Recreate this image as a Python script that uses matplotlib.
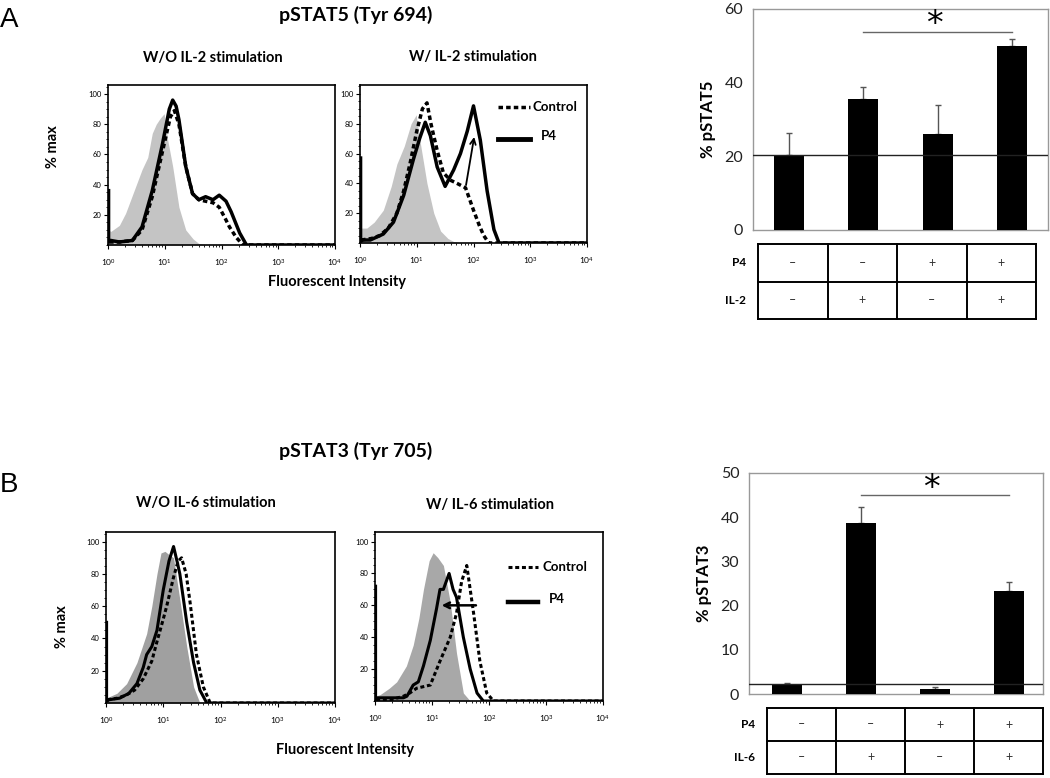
import numpy as np
import matplotlib
matplotlib.use("Agg")
import matplotlib.pyplot as plt
from matplotlib.ticker import LogLocator, NullFormatter, MultipleLocator

plt.rcParams['font.family'] = ['Lato', 'DejaVu Sans']

# ---- flow histograms (x in log10 units, y in % max) ----
# W/O IL-2
il2_off_iso_log = [0.0, 0.05, 0.2, 0.31, 0.45, 0.6, 0.7, 0.78, 0.85, 0.92, 0.99, 1.05, 1.14, 1.25, 1.37, 1.5, 1.6, 1.75]
il2_off_iso_y = [10, 9, 13, 21, 35, 50, 58, 74, 80, 84, 87, 70, 52, 25, 10, 4, 1, 0]
il2_off_ctrl_log = [0.02, 0.2, 0.43, 0.6, 0.78, 0.96, 1.1, 1.17, 1.25, 1.37, 1.49, 1.6, 1.72, 1.85, 1.96, 2.06, 2.14, 2.26, 2.38, 4.0]
il2_off_ctrl_y = [2, 2, 3, 10, 32, 62, 85, 89, 80, 52, 34, 30, 29, 28, 25, 18, 12, 5, 0, 0]
il2_off_p4_log = [0.01, 0.01, 0.05, 0.2, 0.43, 0.6, 0.78, 0.96, 1.08, 1.14, 1.2, 1.25, 1.37, 1.49, 1.6, 1.72, 1.85, 1.96, 2.08, 2.17, 2.32, 2.44, 4.0]
il2_off_p4_y = [36, 2, 3, 2, 3, 12, 36, 67, 90, 96, 92, 83, 52, 34, 30, 32, 30, 33, 29, 22, 8, 0, 0]
# W/ IL-2
il2_on_iso_log = [0.0, 0.12, 0.25, 0.41, 0.55, 0.65, 0.78, 0.9, 0.99, 1.05, 1.18, 1.3, 1.42, 1.55, 1.65, 1.8]
il2_on_iso_y = [10, 10, 14, 22, 38, 53, 65, 80, 86, 70, 40, 20, 8, 3, 1, 0]
il2_on_ctrl_log = [0.02, 0.2, 0.35, 0.5, 0.65, 0.77, 0.88, 1.0, 1.1, 1.18, 1.25, 1.36, 1.47, 1.6, 1.71, 1.86, 2.0, 2.1, 2.18, 2.27, 4.0]
il2_on_ctrl_y = [2, 3, 5, 10, 20, 35, 53, 75, 90, 94, 80, 62, 47, 42, 40, 37, 22, 12, 5, 0, 0]
il2_on_p4_log = [0.01, 0.01, 0.05, 0.18, 0.41, 0.59, 0.77, 0.94, 1.05, 1.15, 1.24, 1.36, 1.5, 1.65, 1.77, 1.89, 2.0, 2.12, 2.24, 2.36, 2.45, 4.0]
il2_on_p4_y = [57, 1, 2, 2, 6, 14, 32, 56, 70, 81, 72, 51, 38, 49, 60, 75, 92, 69, 35, 9, 0, 0]
# W/O IL-6
il6_off_iso_log = [0.0, 0.19, 0.36, 0.54, 0.71, 0.8, 0.89, 0.96, 1.03, 1.1, 1.18, 1.29, 1.41, 1.53, 1.64]
il6_off_iso_y = [3, 6, 12, 25, 43, 60, 80, 93, 94, 92, 90, 64, 35, 10, 0]
il6_off_ctrl_log = [0.02, 0.2, 0.36, 0.5, 0.65, 0.8, 0.89, 1.0, 1.06, 1.18, 1.26, 1.32, 1.4, 1.47, 1.58, 1.7, 1.82, 4.0]
il6_off_ctrl_y = [2, 3, 5, 8, 15, 26, 38, 52, 60, 78, 88, 90, 80, 62, 30, 10, 0, 0]
il6_off_p4_log = [0.01, 0.01, 0.05, 0.24, 0.4, 0.54, 0.65, 0.71, 0.8, 0.89, 1.0, 1.1, 1.18, 1.24, 1.29, 1.41, 1.53, 1.64, 1.76, 4.0]
il6_off_p4_y = [50, 1, 2, 3, 6, 12, 22, 30, 35, 45, 70, 88, 97, 88, 80, 50, 25, 8, 0, 0]
# W/ IL-6
il6_on_iso_log = [0.0, 0.09, 0.25, 0.38, 0.55, 0.67, 0.77, 0.85, 0.95, 1.02, 1.1, 1.2, 1.32, 1.43, 1.55, 1.67]
il6_on_iso_y = [3, 4, 8, 12, 22, 35, 52, 70, 88, 93, 90, 85, 62, 30, 5, 0]
il6_on_ctrl_log = [0.02, 0.3, 0.5, 0.61, 0.73, 0.85, 0.97, 1.14, 1.32, 1.43, 1.52, 1.61, 1.73, 1.84, 1.96, 2.08, 4.0]
il6_on_ctrl_y = [1, 1, 3, 5, 8, 9, 10, 25, 40, 55, 75, 85, 55, 25, 5, 0, 0]
il6_on_p4_log = [0.01, 0.01, 0.05, 0.2, 0.5, 0.56, 0.67, 0.76, 0.85, 0.97, 1.08, 1.14, 1.2, 1.3, 1.37, 1.43, 1.55, 1.67, 1.79, 1.9, 4.0]
il6_on_p4_y = [72, 1, 2, 2, 2, 3, 10, 12, 22, 38, 58, 70, 70, 80, 70, 65, 40, 20, 5, 0, 0]

# ---- bar charts ----
pstat5_mean = [20.4, 35.6, 26.0, 50.0]
pstat5_err = [6.0, 3.1, 7.9, 1.8]
pstat5_base = 20.4
pstat3_mean = [2.1, 38.7, 1.1, 23.2]
pstat3_err = [0.5, 3.5, 0.5, 2.1]
pstat3_base = 2.2

p4_row = ['–', '–', '+', '+']
il_row = ['–', '+', '–', '+']

W, H = 1050, 778
fig = plt.figure(figsize=(W / 100, H / 100), dpi=100)


def box(l, t, r, b):
    return [l / W, 1 - b / H, (r - l) / W, (b - t) / H]


def ftxt(x, y, s, **kw):
    fig.text(x / W, 1 - y / H, s, **kw)


def draw_hist(ax, iso, ctrl, p4, gray, lw=2.5):
    ax.fill_between(10 ** np.array(iso[0]), iso[1], color=gray, lw=0, zorder=1)
    ax.plot(10 ** np.array(ctrl[0]), ctrl[1], color='black', lw=lw,
            ls=(0, (1.3, 0.9)), zorder=3)
    ax.plot(10 ** np.array(p4[0]), p4[1], color='black', lw=lw, zorder=4)
    ax.set_xscale('log')
    ax.set_xlim(1, 1e4)
    ax.set_ylim(0, 106)
    ax.xaxis.set_major_locator(LogLocator(base=10, numticks=6))
    ax.xaxis.set_minor_locator(LogLocator(base=10, subs=np.arange(2, 10), numticks=20))
    ax.xaxis.set_minor_formatter(NullFormatter())
    ax.set_yticks([20, 40, 60, 80, 100])
    ax.yaxis.set_minor_locator(MultipleLocator(5))
    ax.tick_params(axis='both', which='major', labelsize=6, length=3, width=0.8, pad=6)
    ax.tick_params(axis='both', which='minor', length=1.5, width=0.6)
    ax.tick_params(axis='y', pad=1.5, labelsize=5.5)
    for s in ax.spines.values():
        s.set_linewidth(1.2)


def legend_in(ax, x0, x1, y_ctrl, y_p4, xt_ctrl, xt_p4, lw=2.5):
    ax.plot([x0, x1], [y_ctrl, y_ctrl], transform=ax.transAxes, color='black',
            lw=lw, ls=(0, (1.3, 0.9)))
    ax.text(xt_ctrl, y_ctrl, 'Control', transform=ax.transAxes, fontsize=9.5,
            va='center', fontweight='bold')
    ax.plot([x0, x1], [y_p4, y_p4], transform=ax.transAxes, color='black', lw=lw + 1)
    ax.text(xt_p4, y_p4 + 0.02, 'P4', transform=ax.transAxes, fontsize=9.5,
            va='center', fontweight='bold')


def draw_bars(ax, mean, err, base, ymax, step, xlo, sig_y, star_y, ylab):
    x = np.arange(len(mean))
    ax.bar(x, mean, width=0.4, color='black', zorder=3)
    ax.errorbar(x, mean, yerr=[np.zeros(len(err)), err], fmt='none',
                ecolor='#555555', elinewidth=1, capsize=2, capthick=1, zorder=2)
    ax.axhline(base, color='#222222', lw=1, zorder=4)
    ax.plot([1, 3], [sig_y, sig_y], color='#666666', lw=1)
    ax.text(1.95, star_y, '*', fontsize=24, ha='center', va='center',
            family=['DejaVu Sans'])
    ax.set_xlim(xlo, xlo + 3.97)
    ax.set_ylim(0, ymax)
    ax.set_yticks(np.arange(0, ymax + 1, step))
    ax.set_xticks([])
    ax.tick_params(axis='y', length=0, labelsize=11.5, pad=7, labelcolor='#222222')
    for s in ax.spines.values():
        s.set_color('#999999')
        s.set_linewidth(1)
    ax.set_ylabel(ylab, fontsize=12, fontweight='bold', labelpad=6)


def draw_table(ax, rows, labels):
    ax.set_xlim(0, 4)
    ax.set_ylim(0, 2)
    ax.axis('off')
    for yy in [0, 1, 2]:
        ax.plot([0, 4], [yy, yy], color='black', lw=1.4, clip_on=False)
    for xx in range(5):
        ax.plot([xx, xx], [0, 2], color='black', lw=1.4, clip_on=False)
    for r, (row, lab) in enumerate(zip(rows, labels)):
        yc = 1.5 - r
        ax.text(-0.17, yc, lab, ha='right', va='center', fontsize=8.5, fontweight='bold')
        for i, s in enumerate(row):
            ax.text(i + 0.5, yc, s, ha='center', va='center', fontsize=9, color='#333333')


# ---------------- panel A ----------------
ftxt(0, 20, 'A', fontsize=20, family=['Liberation Sans', 'DejaVu Sans'], va='center')
ftxt(356, 15, 'pSTAT5 (Tyr 694)', fontsize=14, fontweight='bold', ha='center', va='center')
ftxt(213, 58, 'W/O IL-2 stimulation', fontsize=10.5, fontweight='bold', ha='center', va='center')
ftxt(473, 57, 'W/ IL-2 stimulation', fontsize=10.5, fontweight='bold', ha='center', va='center')
ftxt(53, 147, '% max', fontsize=10.5, fontweight='bold', ha='center', va='center', rotation=90)
ftxt(337, 282, 'Fluorescent Intensity', fontsize=10.5, fontweight='bold', ha='center', va='center')

ax1 = fig.add_axes(box(108, 85, 335, 245))
draw_hist(ax1, (il2_off_iso_log, il2_off_iso_y), (il2_off_ctrl_log, il2_off_ctrl_y),
          (il2_off_p4_log, il2_off_p4_y), '#c4c4c4')

ax2 = fig.add_axes(box(360, 85, 587, 243))
draw_hist(ax2, (il2_on_iso_log, il2_on_iso_y), (il2_on_ctrl_log, il2_on_ctrl_y),
          (il2_on_p4_log, il2_on_p4_y), '#c4c4c4')
legend_in(ax2, 0.608, 0.749, 0.861, 0.658, 0.762, 0.795)
ax2.annotate('', xy=(10 ** 2.02, 73), xytext=(10 ** 1.86, 37),
             arrowprops=dict(arrowstyle='->', color='black', lw=1.3))

axA = fig.add_axes(box(753, 9, 1048, 230))
draw_bars(axA, pstat5_mean, pstat5_err, pstat5_base, 60, 20, -0.485, 53.8, 55.8, '% pSTAT5')
tA = fig.add_axes(box(758, 244, 1036, 319))
draw_table(tA, [p4_row, il_row], ['P4', 'IL-2'])

# ---------------- panel B ----------------
ftxt(0, 485, 'B', fontsize=20, family=['Liberation Sans', 'DejaVu Sans'], va='center')
ftxt(356, 451, 'pSTAT3 (Tyr 705)', fontsize=14, fontweight='bold', ha='center', va='center')
ftxt(206, 503, 'W/O IL-6 stimulation', fontsize=10.5, fontweight='bold', ha='center', va='center')
ftxt(490, 505, 'W/ IL-6 stimulation', fontsize=10.5, fontweight='bold', ha='center', va='center')
ftxt(62, 627, '% max', fontsize=10.5, fontweight='bold', ha='center', va='center', rotation=90)
ftxt(345, 750, 'Fluorescent Intensity', fontsize=10.5, fontweight='bold', ha='center', va='center')

ax3 = fig.add_axes(box(106, 532, 335, 703))
draw_hist(ax3, (il6_off_iso_log, il6_off_iso_y), (il6_off_ctrl_log, il6_off_ctrl_y),
          (il6_off_p4_log, il6_off_p4_y), '#a0a0a0', lw=2.2)

ax4 = fig.add_axes(box(375, 532, 603, 701))
draw_hist(ax4, (il6_on_iso_log, il6_on_iso_y), (il6_on_ctrl_log, il6_on_ctrl_y),
          (il6_on_p4_log, il6_on_p4_y), '#a8a8a8', lw=2.2)
legend_in(ax4, 0.583, 0.715, 0.793, 0.586, 0.735, 0.763, lw=2.2)
ax4.annotate('', xy=(10 ** 1.12, 60), xytext=(10 ** 1.82, 60),
             arrowprops=dict(arrowstyle='->', color='black', lw=1.8))

axB = fig.add_axes(box(749, 473, 1043, 694))
draw_bars(axB, pstat3_mean, pstat3_err, pstat3_base, 50, 10, -0.51, 45.1, 46.5, '% pSTAT3')
tB = fig.add_axes(box(767, 708, 1043, 774))
draw_table(tB, [p4_row, il_row], ['P4', 'IL-6'])

fig.savefig('out.png', dpi=100)
